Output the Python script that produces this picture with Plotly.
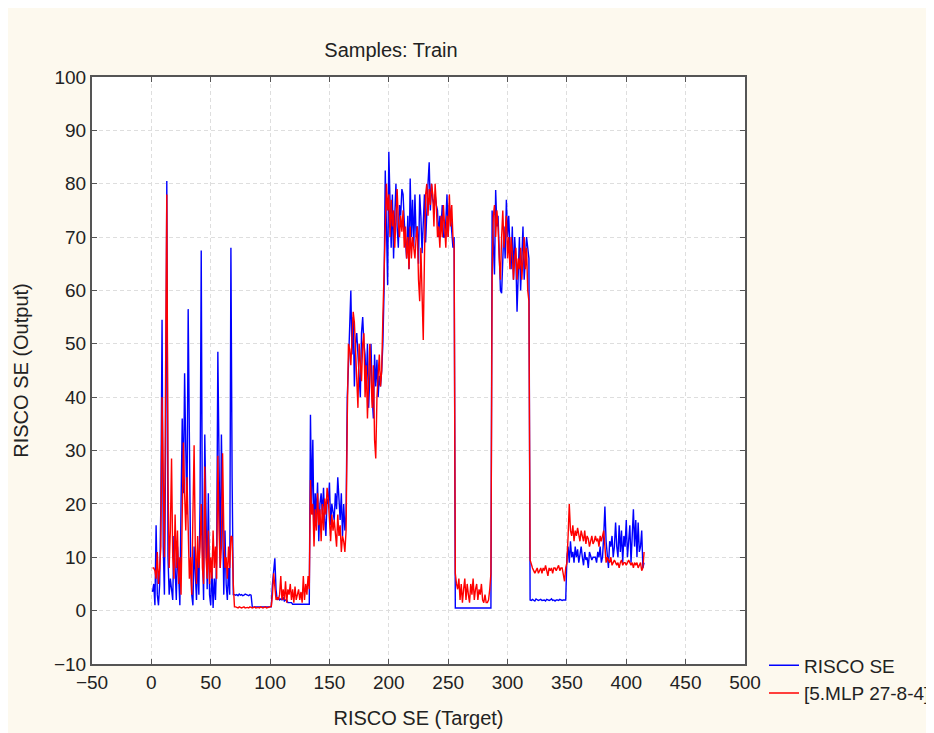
import plotly.graph_objects as go

# ---- data: sample index -> target (blue) and network output (red) ----
target_a = [3.5, 5, 1, 16, 3, 1, 5, 20, 54.5, 12, 3, 30, 80.5, 10, 3, 6, 4, 2, 14, 6,
            2, 12, 5, 1, 20, 36, 22, 44.5, 30, 18, 56.5, 25, 10, 3, 1, 12, 5, 2, 10, 3,
            20, 67.5, 12, 2, 33, 15, 4, 22, 3, 1, 8, 0.5, 6, 2, 10, 48.5, 20, 8, 33, 12,
            3, 15, 5, 2, 8, 3, 68, 25, 3, 3]
output_a = [8, 8, 7.5, 6, 11, 5, 8, 12, 40, 20, 10, 45, 78, 25, 8, 15, 28.5, 10, 6, 18,
            8, 15, 5, 10, 3, 18, 31.5, 22, 15, 25, 12, 6, 10, 3, 18, 31, 12, 5, 14, 8,
            12, 20, 8, 5, 27, 10, 6, 15, 5, 10, 6, 15, 8, 12, 6, 29, 15, 8, 12, 29.5,
            15, 8, 10, 6, 12, 8, 14, 13.8, 5, 0.7]

target_b = [2.9, 3.0, 2.8, 3.1, 2.9, 3.0, 2.8, 2.9, 3.1, 3.0, 2.9, 2.8, 3.0, 2.9,
            0.7, 0.6, 0.7, 0.7, 0.6, 0.7, 0.7, 0.6, 0.7, 0.7, 0.6, 0.7, 0.7, 0.6, 0.7, 0.7, 0.7]
output_b = [0.7, 0.6, 0.5, 0.7, 0.6, 0.5, 0.6, 0.7, 0.5, 0.6, 0.6, 0.5, 0.7, 0.6,
            0.5, 0.6, 0.7, 0.5, 0.6, 0.6, 0.5, 0.7, 0.6, 0.5, 0.6, 0.7, 0.5, 0.6, 0.6, 0.7, 0.8]

target_c = [5, 8, 9.8, 4, 2, 2.5, 2, 2.2, 2, 2.5, 1.8, 2, 2, 1.5, 1.5, 1.5, 1.5, 1.2,
            1.2, 1.3, 1.2, 1.2, 1.2, 1.2, 1.2, 1.2, 1.2, 1.2, 1.2, 1.2, 1.2, 1.2]
output_c = [3, 7, 4.5, 2, 2.5, 2, 3, 6.5, 2, 4, 2, 5.5, 1.5, 4, 3, 5, 2, 4, 1.5, 4.5,
            2, 3, 4, 2, 3.5, 1.5, 6.5, 2, 5, 3, 6.5, 4]

target_d = [36.7, 20, 32, 14, 22, 18, 24, 13, 20, 22, 18, 23, 17, 14, 21, 20, 24, 16,
            20, 18, 17, 22, 19, 25, 20, 17, 22, 14, 20, 15, 18]
output_d = [24.5, 18, 20, 12, 19, 15, 22, 16, 19, 13, 20, 15, 21, 18, 23, 21, 16, 13,
            18, 15, 17, 15, 12, 18, 14, 16, 11, 14, 13, 11, 15]

target_e = [40, 46, 52, 60, 48, 55, 42, 50, 52, 48, 45, 40, 52, 55, 50, 48, 42, 50, 38,
            46, 50, 40, 36, 48, 42, 47, 40, 44, 42, 45, 50, 60]
output_e = [36, 50, 49, 46, 51, 56, 54, 48, 43, 38, 50, 46, 43, 50, 52, 40, 46, 36, 45,
            50, 44, 38, 46, 32, 28.5, 40, 44, 48, 42, 45, 55, 63]

target_f = [82.5, 72, 61, 86, 75, 68, 78, 66, 74, 80, 72, 68, 76, 74, 79, 78, 73, 70,
            66, 74, 64, 81, 70, 77, 68, 78, 70, 72, 65, 78, 74, 67, 72, 78, 69, 76, 80,
            84, 75, 80, 77, 76, 78, 76, 75, 70, 74, 72, 76, 70, 70, 73, 78, 70, 76, 74,
            70, 68, 70]
output_f = [72, 80, 75, 78, 70, 77, 72, 75, 68, 76, 79, 73, 70, 74, 71, 75, 68, 72, 66,
            70, 64, 72, 66, 70, 68, 66, 70, 72, 62, 58, 68, 60, 50.7, 66, 78, 80, 74, 79,
            76, 80, 78, 72, 80, 76, 70, 72, 68, 74, 70, 76, 72, 68, 74, 70, 78, 72, 76,
            70, 68]

target_g = [0.5, 0.5, 0.5, 0.5, 0.5, 0.5, 0.5, 0.5, 0.5, 0.5, 0.5, 0.5, 0.5, 0.5, 0.5,
            0.5, 0.5, 0.5, 0.5, 0.5, 0.5, 0.5, 0.5, 0.5, 0.5, 0.5, 0.5, 0.5, 0.5, 0.5, 0.5]
output_g = [7, 5, 4, 6, 2, 5, 1.5, 4, 6, 2, 5, 3, 1.5, 5, 3, 6, 2, 4, 5, 2, 4, 3, 5, 2,
            1.5, 3, 1.5, 1.5, 2, 4, 7]

target_h = [75, 70, 63, 78.8, 72, 74, 68, 60, 59.5, 68, 72, 66, 77, 70, 74, 68, 64, 72,
            62, 70, 66, 56, 64, 70, 60, 68, 72, 62, 66, 70, 68, 66]
output_h = [62, 74, 76, 70, 75, 72, 66, 62, 70, 75, 68, 72, 74, 66, 70, 64, 70, 67, 62,
            66, 68, 62, 66, 64, 68, 62, 66, 70, 64, 68, 60, 58]

target_i = [2.0, 1.9, 2.1, 2.0, 1.8, 2.2, 2.0, 1.9, 2.0, 2.1, 1.9, 2.0, 2.0, 1.8, 2.1,
            2.0, 1.9, 2.0, 2.2, 1.9, 2.0, 1.8, 2.0, 2.0, 1.9, 2.1, 2.0, 1.9, 2.0, 2.0, 2.0]
output_i = [9.5, 8.5, 8, 7.5, 7, 7.5, 8, 7, 7.5, 8, 7, 8, 7.5, 8.5, 7.5, 6.5, 8, 7.5, 8,
            7, 8, 8, 7.5, 8, 8.5, 7.5, 8, 8, 7, 5.5, 8]

target_j = [10, 12, 9, 13, 10, 11, 9, 12, 10, 11.5, 9, 10.5, 12, 10, 8.5, 11, 9.5, 10, 8,
            11, 10, 9.5, 10, 10, 10, 9, 11, 10, 12, 9, 10, 14, 19.5, 13, 10, 8, 13, 12,
            14, 10, 12, 16.5, 12, 10, 16, 11, 15, 9, 14, 12, 17, 10, 13, 16, 9, 14, 19,
            12, 17, 10, 16.5, 11, 12, 15, 8, 9]
output_j = [9, 14, 20, 15, 14, 16, 13, 15, 14, 15.5, 14, 13, 15, 14, 13, 15, 12.5, 14,
            13.5, 12, 13, 14, 12.5, 13, 14, 13, 13.5, 12, 14, 13, 14, 15, 12, 9, 10, 9.5,
            9, 10, 8.5, 9, 9.5, 9, 8.5, 9, 8, 9, 9.5, 8.5, 9, 9, 8.5, 9, 9.5, 9, 8.5, 9,
            8, 9, 8.5, 9, 8, 8.5, 9, 7.5, 8, 11]

target = (target_a + target_b + target_c + target_d + target_e + target_f + target_g
          + target_h + target_i + target_j)
output = (output_a + output_b + output_c + output_d + output_e + output_f + output_g
          + output_h + output_i + output_j)
samples = list(range(1, len(target) + 1))

x_ticks = [-50, 0, 50, 100, 150, 200, 250, 300, 350, 400, 450, 500]
y_ticks = [-10, 0, 10, 20, 30, 40, 50, 60, 70, 80, 90, 100]

FONT = "Liberation Sans, Arial, sans-serif"
TXT = "#222222"

fig = go.Figure()
fig.add_trace(go.Scatter(x=samples, y=target, mode="lines", name="RISCO SE",
                         line=dict(color="#0000ff", width=1.4)))
fig.add_trace(go.Scatter(x=samples[:len(output)], y=output, mode="lines",
                         name="[5.MLP 27-8-4]",
                         line=dict(color="#ff0000", width=1.4)))

axis_common = dict(
    showgrid=True, gridcolor="#dedede", griddash="4px,3px", gridwidth=1,
    showline=True, linecolor="#555555", linewidth=2, mirror="allticks",
    ticks="inside", ticklen=5, tickcolor="#555555", tickwidth=1,
    zeroline=False, tickfont=dict(family=FONT, size=19, color=TXT),
)

# page body adds 8px offset; plot area targets page px x 92-745, y 77-664
fig.update_layout(
    width=934, height=733,
    paper_bgcolor="#fdf9ee", plot_bgcolor="#ffffff",
    margin=dict(l=84, r=197, t=69, b=77, autoexpand=False),
    title=dict(text="Samples: Train", x=383 / 934, xanchor="center",
               y=1 - 42 / 733, yanchor="middle", yref="container",
               font=dict(family=FONT, size=20, color=TXT)),
    xaxis=dict(range=[-50, 500], tickvals=x_ticks,
               title=dict(text="RISCO SE (Target)", standoff=19,
                          font=dict(family=FONT, size=20, color=TXT)),
               **axis_common),
    yaxis=dict(range=[-10, 100], tickvals=y_ticks,
               title=dict(text="RISCO SE (Output)", standoff=20,
                          font=dict(family=FONT, size=20, color=TXT)),
               **axis_common),
    legend=dict(x=(764 - 92) / 653, y=0.03, xanchor="left", yanchor="top",
                bgcolor="rgba(0,0,0,0)", itemwidth=30, tracegroupgap=0,
                font=dict(family=FONT, size=19, color=TXT)),
)

fig.write_html("out.html")
